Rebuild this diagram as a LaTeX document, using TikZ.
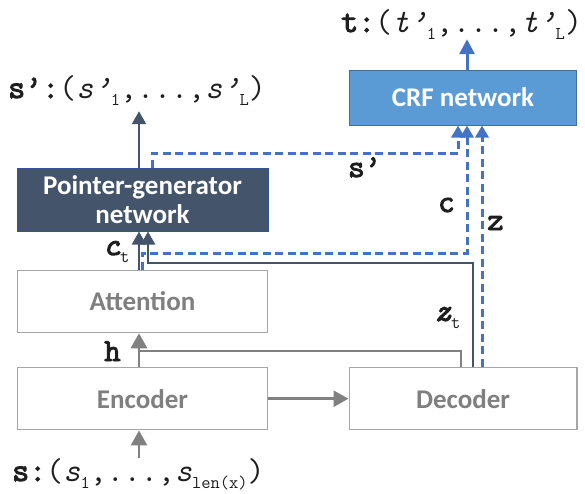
\documentclass[tikz,border=0pt]{standalone}
\usepackage{fontspec}
\setmainfont{Carlito}
\newfontfamily\monoheavy{Latin Modern Mono}[FakeBold=3]
\usetikzlibrary{arrows.meta}

\definecolor{slate}{HTML}{44546A}
\definecolor{slateedge}{HTML}{2F5597}
\definecolor{crfblue}{HTML}{5B9BD5}
\definecolor{crfedge}{HTML}{41719C}
\definecolor{dashblue}{HTML}{4472C4}
\definecolor{boxgray}{HTML}{A6A6A6}
\definecolor{linegray}{HTML}{808080}
\definecolor{textgray}{HTML}{7F7F7F}
\definecolor{inkdark}{HTML}{1E1E1E}

% lowered small index used in the sequence labels
\newcommand\lowsub[1]{\raisebox{-7pt}{\ttfamily\fontsize{18}{18}\selectfont\upshape #1}}
% heavy typewriter text
\newcommand\hv[1]{{\monoheavy #1}}
\newcommand\hvit[1]{{\monoheavy\itshape #1}}

\begin{document}
\begin{tikzpicture}[x=1pt,y=-1pt,
  boxtext/.style={font=\fontsize{27}{29}\selectfont\bfseries, inner sep=0pt, align=center},
  plainbox/.style={boxtext, draw=boxgray, line width=1.5pt, fill=white, text=textgray, minimum height=62pt},
  leftbox/.style={plainbox, minimum width=250pt},
  rightbox/.style={plainbox, minimum width=227.5pt},
  pgbox/.style={boxtext, draw=slateedge, line width=1pt, fill=slate, text=white, minimum width=251pt, minimum height=63pt},
  crfbox/.style={boxtext, draw=crfedge, line width=1pt, fill=crfblue, text=white, minimum width=227.5pt, minimum height=55pt},
  lbl/.style={font={\monoheavy\fontsize{32}{33}\selectfont}, text=inkdark, inner sep=0pt},
  seq/.style={font={\ttfamily\fontsize{33}{34}\selectfont}, text=inkdark, inner sep=0pt},
  grayarrow/.style={draw=linegray, line width=2.8pt, -{Triangle[width=16pt,length=15pt]}},
  grayline/.style={draw=linegray, line width=2.8pt},
  darkarrow/.style={draw=slate, line width=2.3pt, -{Triangle[width=14pt,length=13pt]}},
  bluedash/.style={draw=dashblue, line width=3pt, dash pattern=on 8pt off 4.5pt, -{Triangle[width=13pt,length=12pt]}},
  bluearrow/.style={draw=dashblue, line width=3pt, -{Triangle[width=15pt,length=15pt]}}
]
\useasboundingbox (0,0) rectangle (585,493);

% levels of the horizontal runs
\coordinate (ySp) at (0,153);
\coordinate (yC)  at (0,253);
\coordinate (yZt) at (0,263);
\coordinate (yH)  at (0,351);

% blocks
\node[pgbox]    (pg)  at (142.5,199.5) {Pointer-generator\\network};
\node[crfbox]   (crf) at (463,97.5)    {CRF network};
\node[leftbox]  (att) at (142.5,301.5) {Attention};
\node[leftbox]  (enc) at (142.5,398.7) {Encoder};
\node[rightbox] (dec) at (463,398.7)   {Decoder};

% sequences
\node[seq, anchor=base west] (sout) at (8,98)
  {\hv{s’:}(\textit{s’}\lowsub{1},...,\textit{s’}\lowsub{L})};
\node[seq, anchor=base west] (tout) at (341,32)
  {\hv{t:}(\textit{t’}\lowsub{1},...,\textit{t’}\lowsub{L})};
\node[seq, anchor=base west] (sin) at (12,481)
  {\hv{s:}(\textit{s}\lowsub{1},...,\textit{s}\lowsub{len(x)})};

% edge labels
\node[lbl, anchor=base west] (hl)  at (104,361) {h};
\node[lbl, anchor=base west] (ctl) at (103,255) {\hvit{c}\lowsub{t}};
\node[lbl, anchor=base west] (spl) at (348,177) {s’};
\node[lbl, anchor=base west] (cl)  at (438,212) {c};
\node[lbl, anchor=base west] (zl)  at (487,230) {z};
\node[lbl, anchor=base west] (ztl) at (434,321) {\hvit{z}\lowsub{t}};

% encoder side
\draw[grayarrow] ([xshift=-3.5pt]enc.south |- sin.north) -- ([xshift=-3.5pt]enc.south);
\draw[grayarrow] ([xshift=-3.5pt]enc.north) -- ([xshift=-3.5pt]att.south);
\draw[grayline] ([xshift=-2pt]dec.north) |- ([xshift=-3.5pt]att.south |- yH);
\draw[grayarrow] (enc.east) -- (dec.west);

% decoder state and context into the pointer-generator
\draw[darkarrow] ([xshift=-3.5pt]att.north) -- ([xshift=-3.5pt]pg.south);
\draw[darkarrow] ([xshift=10pt]dec.north) |- ([xshift=5.5pt]pg.south |- yZt) -- ([xshift=5.5pt]pg.south);

% features into the CRF
\draw[bluedash] ([xshift=-0.5pt]att.north) |- ([xshift=4pt]crf.south |- yC) -- ([xshift=4pt]crf.south);
\draw[bluedash] ([xshift=9.5pt]pg.north) |- ([xshift=-5pt]crf.south |- ySp) -- ([xshift=-5pt]crf.south);
\draw[bluedash] ([xshift=19pt]dec.north) -- ([xshift=19pt]crf.south);

% outputs
\draw[darkarrow, shorten >=6pt] ([xshift=-3.5pt]pg.north) -- ([xshift=-3.5pt]pg.north |- sout.south);
\draw[bluearrow] ([xshift=4pt]crf.north) -- ([xshift=4pt]crf.north |- tout.south);
\end{tikzpicture}
\end{document}
